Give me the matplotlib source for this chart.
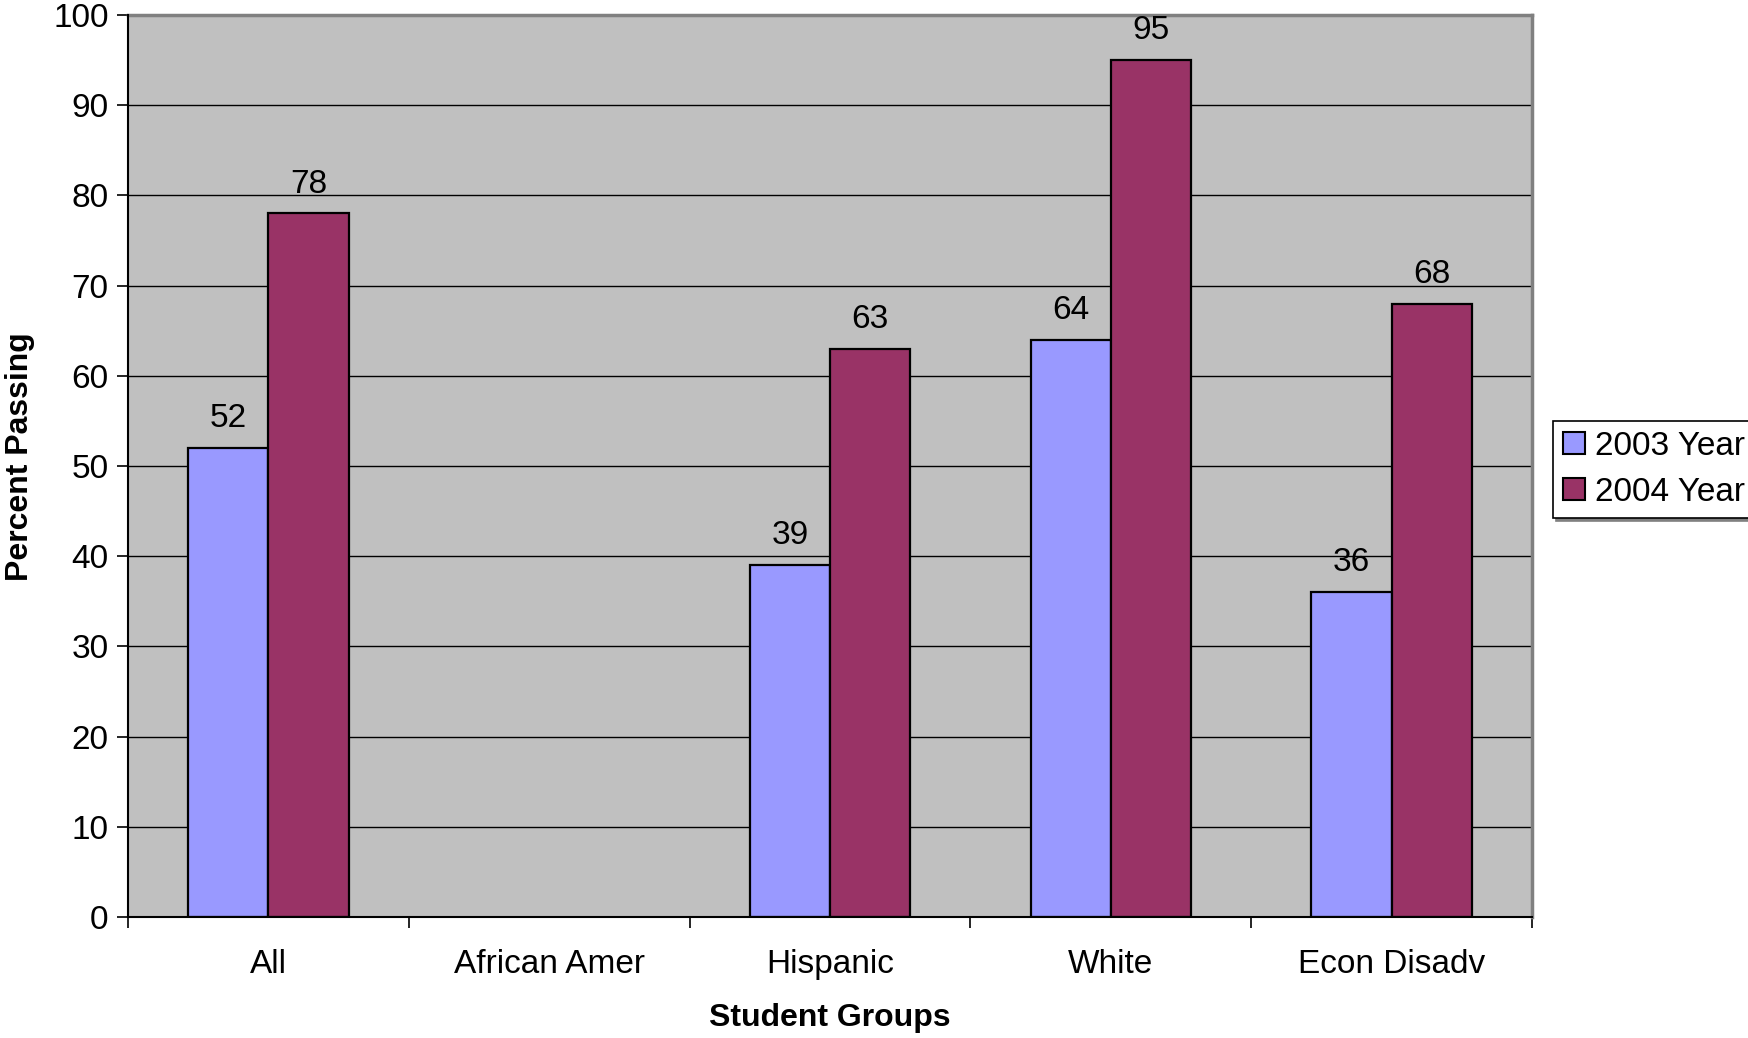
import matplotlib
matplotlib.use("Agg")
import matplotlib.pyplot as plt
import numpy as np
from matplotlib.patches import Patch

plt.rcParams["font.family"] = ["Liberation Sans", "DejaVu Sans"]

groups = ["All", "African Amer", "Hispanic", "White", "Econ Disadv"]
pass_2003 = [52, np.nan, 39, 64, 36]
pass_2004 = [78, np.nan, 63, 95, 68]
series_names = ["2003 Year", "2004 Year"]
colors = ["#9999FF", "#993366"]

FS = 24

fig = plt.figure(figsize=(17.48, 10.38), dpi=100)
ax = fig.add_axes([128 / 1748, 121 / 1038, 1404 / 1748, 902 / 1038])
ax.set_facecolor("#C0C0C0")

x = np.arange(len(groups)) + 0.5
width = 1 / 3.5
for k, (vals, color) in enumerate(zip([pass_2003, pass_2004], colors)):
    pos = x + (k - 0.5) * width
    ax.bar(pos, vals, width=width, color=color, edgecolor="black",
           linewidth=1.6, zorder=3)
    for xi, v in zip(pos, vals):
        if np.isnan(v):
            continue
        ax.annotate(f"{v:g}", (xi, v), xytext=(0, 10), textcoords="offset points",
                    ha="center", va="bottom", fontsize=FS)

ax.set_xlim(0, len(groups))
ax.set_ylim(0, 100)
ax.set_yticks(np.arange(0, 101, 10))
ax.yaxis.grid(True, color="black", linewidth=1.0, zorder=1)
ax.set_axisbelow(True)

# category boundaries get tick marks, names sit between them
ax.set_xticks(np.arange(len(groups) + 1))
ax.set_xticklabels([])
ax.set_xticks(x, minor=True)
ax.set_xticklabels(groups, minor=True, fontsize=FS)
ax.tick_params(axis="x", which="minor", length=0, pad=23)
ax.tick_params(axis="x", which="major", length=8, width=1.2, direction="out")
ax.tick_params(axis="y", length=8, width=1.2, direction="out", labelsize=FS, pad=6)

for side in ["left", "bottom"]:
    ax.spines[side].set_color("black")
    ax.spines[side].set_linewidth(1.5)
    ax.spines[side].set_zorder(4)
for side in ["top", "right"]:
    ax.spines[side].set_color("#808080")
    ax.spines[side].set_linewidth(2.5)

ax.set_xlabel("Student Groups", fontsize=23, fontweight="bold")
ax.set_ylabel("Percent Passing", fontsize=23, fontweight="bold")
ax.xaxis.set_label_coords(0.5, -0.112)
ax.yaxis.set_label_coords(-0.077, 0.51)
ax.xaxis.label.set_va("center")
ax.yaxis.label.set_va("center")

handles = [Patch(facecolor=c, edgecolor="black", linewidth=1.5) for c in colors]
leg = fig.legend(handles, series_names, loc="upper left",
                 bbox_to_anchor=(1553 / 1748, 1 - 421 / 1038),
                 fontsize=FS, fancybox=False, edgecolor="black",
                 shadow={"color": "#808080", "alpha": 1},
                 handlelength=0.65, handleheight=0.65, handletextpad=0.3,
                 labelspacing=0.45, borderpad=0.3, borderaxespad=0)
leg.get_frame().set_linewidth(1.2)

fig.savefig("out.png", dpi=100)
